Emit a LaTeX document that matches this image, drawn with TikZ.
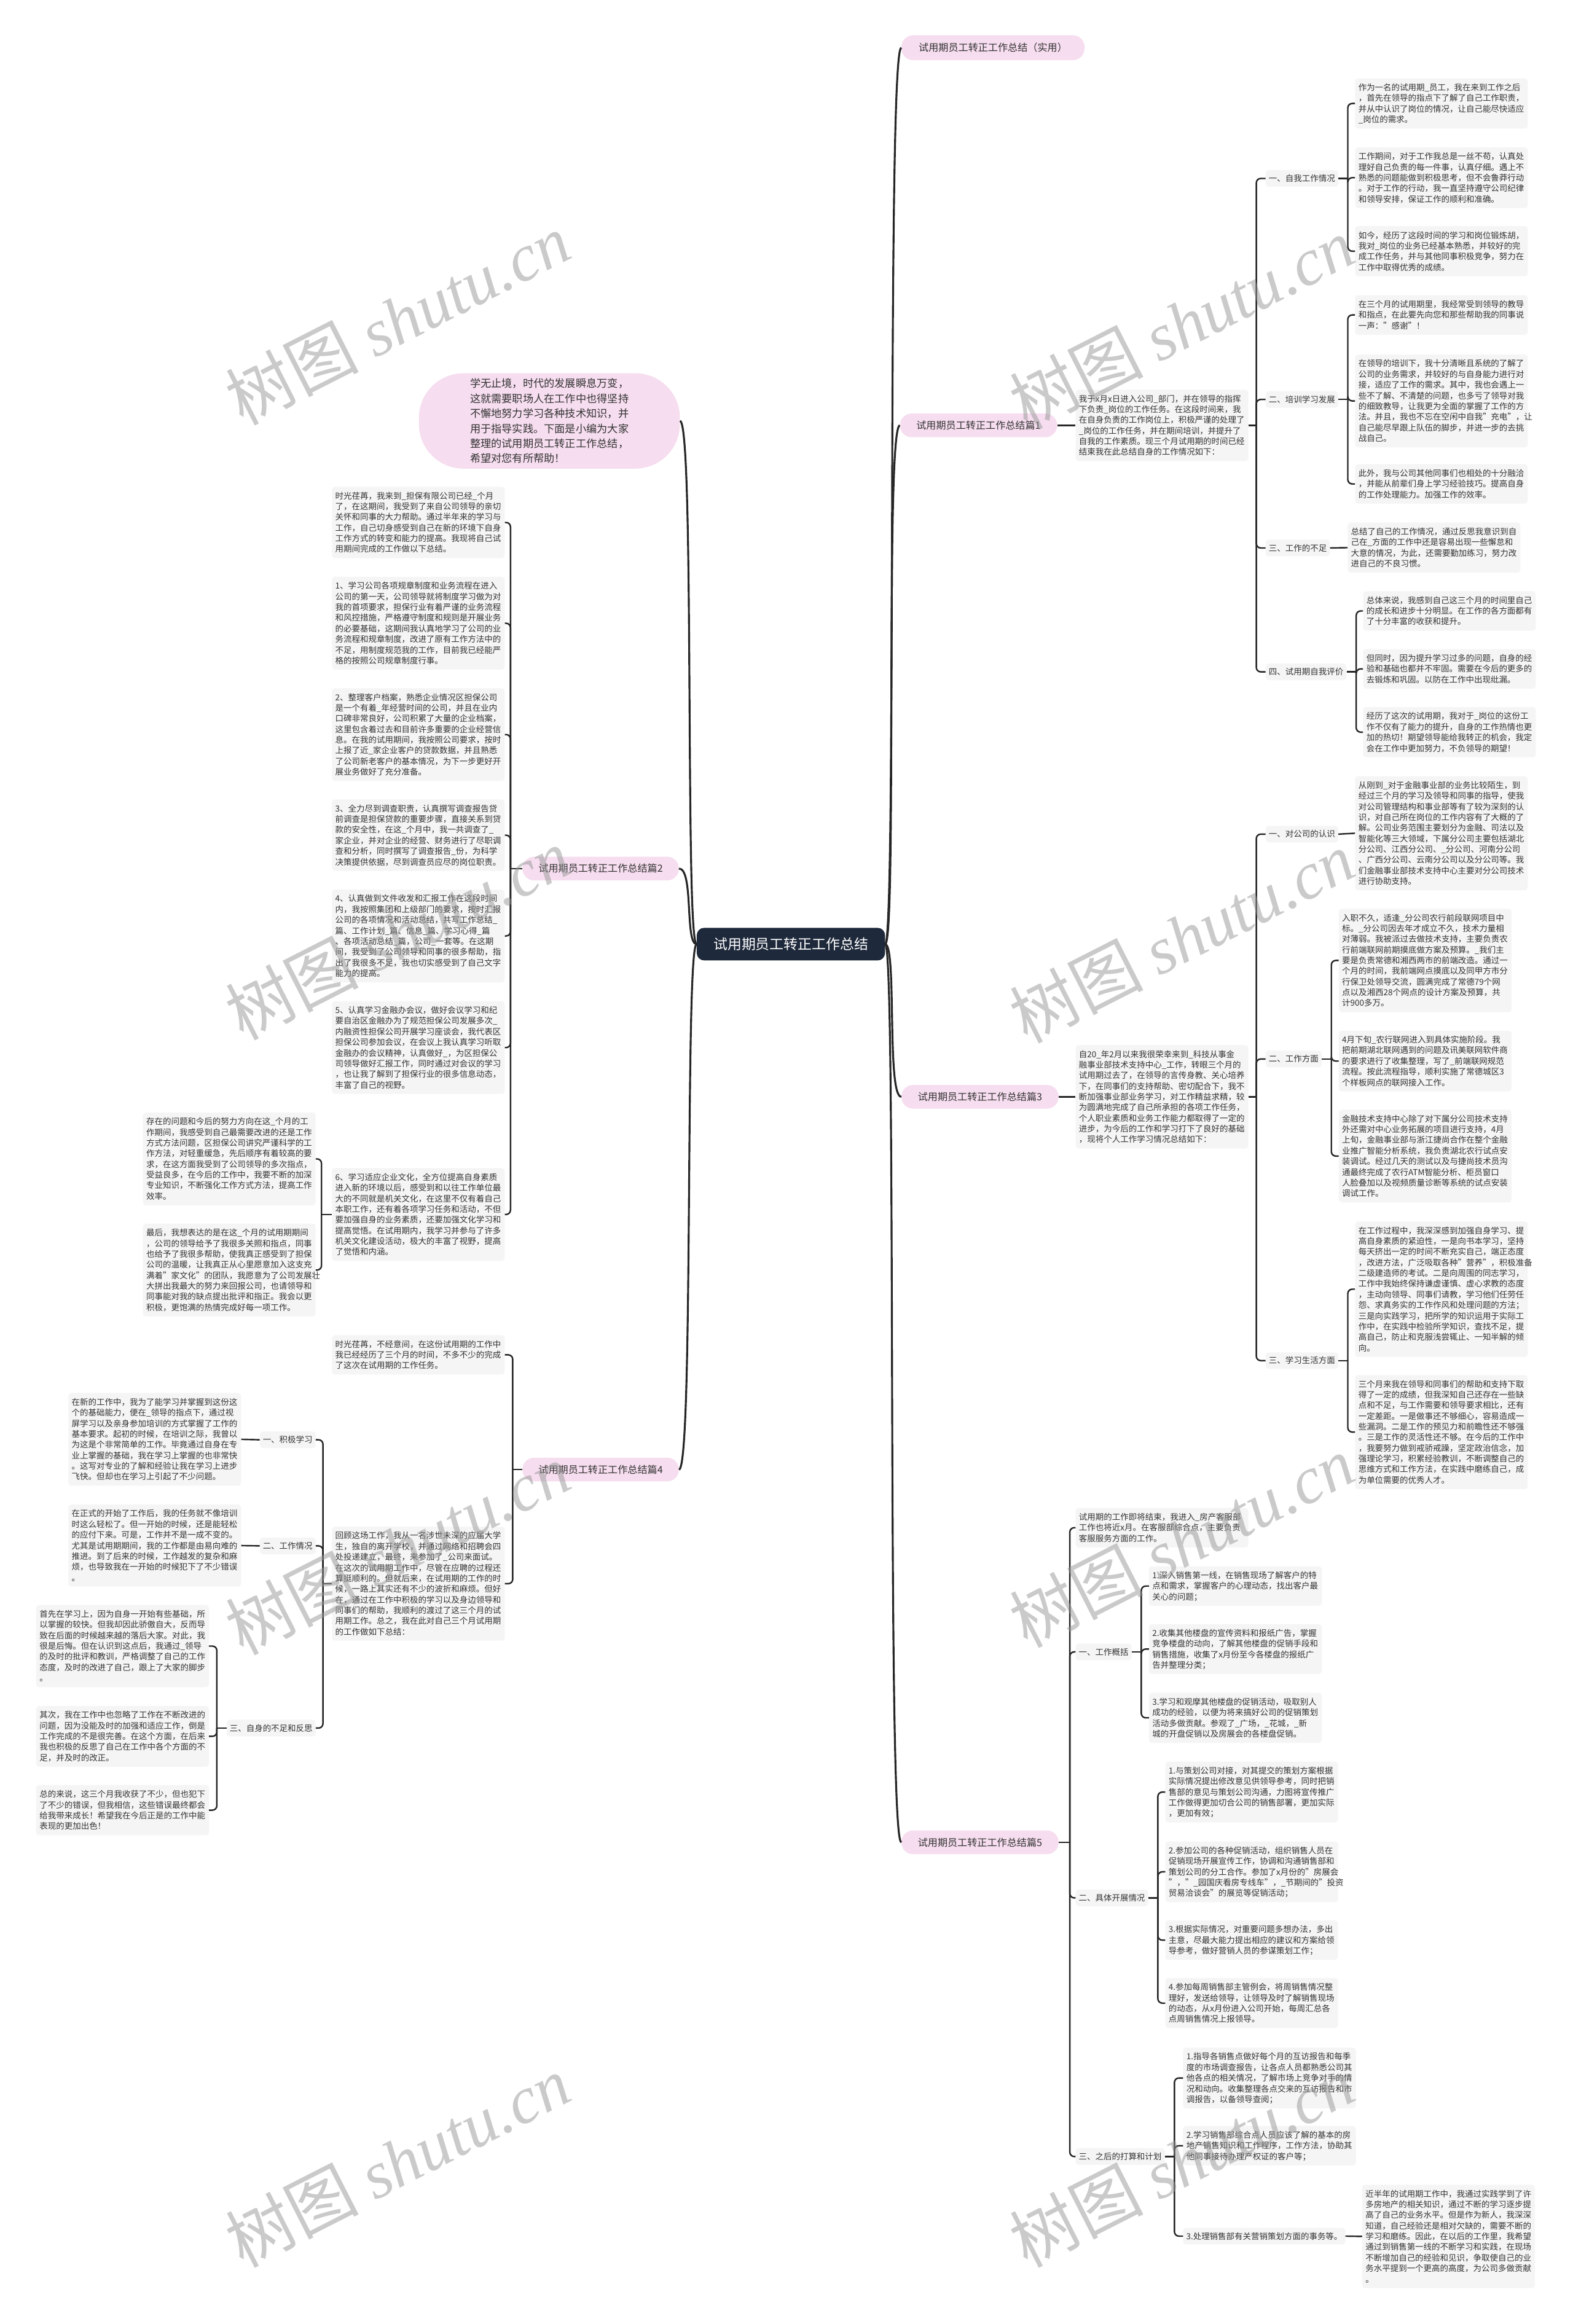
\documentclass[tikz,border=0pt]{standalone}
\usepackage{fontspec}
\setmainfont{Noto Sans CJK SC}
\newfontfamily\wmlat{Liberation Serif}
\usetikzlibrary{calc}
\definecolor{boxc}{RGB}{245,245,245}
\definecolor{txtc}{RGB}{51,51,51}
\definecolor{linec}{RGB}{38,38,38}
\definecolor{pinkc}{RGB}{246,221,239}
\definecolor{centc}{RGB}{30,41,59}
\definecolor{wmc}{RGB}{150,150,150}
\newcommand\bfnt{\fontsize{15.9pt}{20.47pt}\selectfont}
\newcommand\mystrut{\rule[-4.2pt]{0pt}{20.47pt}}
\newcommand\pfnt{\fontsize{19pt}{23pt}\selectfont}
\newcommand\cfnt{\fontsize{27pt}{32pt}\selectfont}
\newcommand\qfnt{\fontsize{20.3pt}{28.8pt}\selectfont}
\newcommand\wfnt{\fontsize{128pt}{140pt}\selectfont}
\begin{document}
\begin{tikzpicture}[x=1mm,y=-1mm,
 tbox/.style={fill=boxc, rounded corners=2mm, text width=112mm, inner xsep=2.25mm, inner ysep=2.5mm, align=left, text=txtc, font=\bfnt, execute at begin node=\mystrut, execute at end node=\mystrut},
 hbox/.style={fill=boxc, rounded corners=2mm, inner xsep=2.1mm, inner ysep=2mm, text=txtc, font=\bfnt, execute at begin node=\mystrut},
 pill/.style={fill=pinkc, rounded corners=7.9mm, minimum height=16mm, minimum width=106mm, inner xsep=3mm, text=txtc, font=\pfnt},
 centre/.style={fill=centc, text=white, rounded corners=5mm, minimum width=127mm, minimum height=22mm, font=\cfnt},
 bubble/.style={fill=pinkc, rounded corners=30mm, minimum width=176mm, minimum height=64.3mm, align=left, text=txtc, font=\qfnt},
 conn/.style={draw=linec, line width=1.0mm},
 hook/.style={draw=linec, line width=1.0mm, rounded corners=3mm},
 mainc/.style={draw=linec, line width=1.3mm},
 wmark/.style={rotate=27, text=wmc, text opacity=0.5, font=\wfnt, inner sep=0pt}
]
\fill[white] (0,0) rectangle (1061,1568);
\useasboundingbox (0,0) rectangle (1061,1568);

% centre and main branches
\node[centre] (C) at (533.5,637) {试用期员工转正工作总结};
\node[pill, anchor=west, minimum width=123.5mm, minimum height=16.8mm] (B0) at (608,32.2) {试用期员工转正工作总结（实用）};
\node[pill, anchor=west] (B1) at (607,287) {试用期员工转正工作总结篇1};
\node[pill, anchor=west] (B3) at (608,740) {试用期员工转正工作总结篇3};
\node[pill, anchor=west] (B5) at (608,1243) {试用期员工转正工作总结篇5};
\node[pill, anchor=east, minimum width=105.5mm] (B2) at (458,586) {试用期员工转正工作总结篇2};
\node[pill, anchor=east, minimum width=105.5mm] (B4) at (458,991.5) {试用期员工转正工作总结篇4};
\node[bubble] (Q) at (370.6,284) {学无止境，时代的发展瞬息万变，\\这就需要职场人在工作中也得坚持\\不懈地努力学习各种技术知识，并\\用于指导实践。下面是小编为大家\\整理的试用期员工转正工作总结，\\希望对您有所帮助！};

\draw[mainc] (C.east) .. controls +(8,0) and +(-10,0) .. (B0.west);
\draw[mainc] (C.east) .. controls +(8,0) and +(-10,0) .. (B1.west);
\draw[mainc] (C.east) .. controls +(8,0) and +(-10,0) .. (B3.west);
\draw[mainc] (C.east) .. controls +(8,0) and +(-10,0) .. (B5.west);
\draw[mainc] (C.west) .. controls +(-8,0) and +(10,0) .. (Q.east);
\draw[mainc] (C.west) .. controls +(-8,0) and +(10,0) .. (B2.east);
\draw[mainc] (C.west) .. controls +(-8,0) and +(10,0) .. (B4.east);

% ---------------- branch 1 ----------------
\node[tbox, anchor=west] (t1) at (725.5,287) {我于x月x日进入公司\_部门，并在领导的指挥\\下负责\_岗位的工作任务。在这段时间来，我\\在自身负责的工作岗位上，积极严谨的处理了\\\_岗位的工作任务，并在期间培训，并提升了\\自我的工作素质。现三个月试用期的时间已经\\结束我在此总结自身的工作情况如下：};
\node[hbox, anchor=west] (s11) at (853.7,120.4) {一、自我工作情况};
\node[hbox, anchor=west] (s12) at (853.7,269.5) {二、培训学习发展};
\node[hbox, anchor=west] (s13) at (853.7,369.7) {三、工作的不足};
\node[hbox, anchor=west] (s14) at (853.7,453.3) {四、试用期自我评价};
\node[tbox, anchor=west] (a1) at (914,69.8) {作为一名的试用期\_员工，我在来到工作之后\\，首先在领导的指点下了解了自己工作职责，\\并从中认识了岗位的情况，让自己能尽快适应\\\_岗位的需求。};
\node[tbox, anchor=west] (a2) at (914,119.9) {工作期间，对于工作我总是一丝不苟，认真处\\理好自己负责的每一件事，认真仔细。遇上不\\熟悉的问题能做到积极思考，但不会鲁莽行动\\。对于工作的行动，我一直坚持遵守公司纪律\\和领导安排，保证工作的顺利和准确。};
\node[tbox, anchor=west] (a3) at (914,169.5) {如今，经历了这段时间的学习和岗位锻炼胡，\\我对\_岗位的业务已经基本熟悉，并较好的完\\成工作任务，并与其他同事积极竞争，努力在\\工作中取得优秀的成绩。};
\node[tbox, anchor=west] (b1) at (914,212.5) {在三个月的试用期里，我经常受到领导的教导\\和指点，在此要先向您和那些帮助我的同事说\\一声："感谢"！};
\node[tbox, anchor=west] (b2) at (914,270.5) {在领导的培训下，我十分清晰且系统的了解了\\公司的业务需求，并较好的与自身能力进行对\\接，适应了工作的需求。其中，我也会遇上一\\些不了解、不清楚的问题，也多亏了领导对我\\的细致教导，让我更为全面的掌握了工作的方\\法。并且，我也不忘在空闲中自我"充电"，让\\自己能尽早跟上队伍的脚步，并进一步的去挑\\战自己。};
\node[tbox, anchor=west] (b3) at (914,326.5) {此外，我与公司其他同事们也相处的十分融洽\\，并能从前辈们身上学习经验技巧。提高自身\\的工作处理能力。加强工作的效率。};
\node[tbox, anchor=west] (c1) at (909,369.5) {总结了自己的工作情况，通过反思我意识到自\\己在\_方面的工作中还是容易出现一些懈怠和\\大意的情况，为此，还需要勤加练习，努力改\\进自己的不良习惯。};
\node[tbox, anchor=west] (d1) at (919.4,412.2) {总体来说，我感到自己这三个月的时间里自己\\的成长和进步十分明显。在工作的各方面都有\\了十分丰富的收获和提升。};
\node[tbox, anchor=west] (d2) at (919.4,451.3) {但同时，因为提升学习过多的问题，自身的经\\验和基础也都并不牢固。需要在今后的更多的\\去锻炼和巩固。以防在工作中出现纰漏。};
\node[tbox, anchor=west] (d3) at (919.4,494) {经历了这次的试用期，我对于\_岗位的这份工\\作不仅有了能力的提升，自身的工作热情也更\\加的热切！期望领导能给我转正的机会，我定\\会在工作中更加努力，不负领导的期望！};

\draw[conn] (B1.east) -- (t1.west);
\draw[conn] (t1.east) -- ++(5.3,0) coordinate (t1x);
\foreach \c in {s11,s12,s13,s14} \draw[hook] (t1x) |- (\c.west);
\draw[conn] (s11.east) -- ++(6.4,0) coordinate (s11x);
\foreach \c in {a1,a2,a3} \draw[hook] (s11x) |- (\c.west);
\draw[conn] (s12.east) -- ++(6.4,0) coordinate (s12x);
\foreach \c in {b1,b2,b3} \draw[hook] (s12x) |- (\c.west);
\draw[conn] (s13.east) -- (c1.west);
\draw[conn] (s14.east) -- ++(6.5,0) coordinate (s14x);
\foreach \c in {d1,d2,d3} \draw[hook] (s14x) |- (\c.west);

% ---------------- branch 3 ----------------
\node[tbox, anchor=west] (t3) at (725.5,740) {自20\_年2月以来我很荣幸来到\_科技从事金\\融事业部技术支持中心\_工作，转眼三个月的\\试用期过去了，在领导的言传身教、关心培养\\下，在同事们的支持帮助、密切配合下，我不\\断加强事业部业务学习，对工作精益求精，较\\为圆满地完成了自己所承担的各项工作任务，\\个人职业素质和业务工作能力都取得了一定的\\进步，为今后的工作和学习打下了良好的基础\\，现将个人工作学习情况总结如下：};
\node[hbox, anchor=west] (s31) at (853.7,562.8) {一、对公司的认识};
\node[hbox, anchor=west] (s32) at (853.7,714.5) {二、工作方面};
\node[hbox, anchor=west] (s33) at (853.7,918) {三、学习生活方面};
\node[tbox, anchor=west] (e1) at (914,562.2) {从刚到\_对于金融事业部的业务比较陌生，到\\经过三个月的学习及领导和同事的指导，使我\\对公司管理结构和事业部等有了较为深刻的认\\识，对自己所在岗位的工作内容有了大概的了\\解。公司业务范围主要划分为金融、司法以及\\智能化等三大领域，下属分公司主要包括湖北\\分公司、江西分公司、\_分公司、河南分公司\\、广西分公司、云南分公司以及分公司等。我\\们金融事业部技术支持中心主要对分公司技术\\进行协助支持。};
\node[tbox, anchor=west] (f1) at (903,648) {入职不久，适逢\_分公司农行前段联网项目中\\标。\_分公司因去年才成立不久，技术力量相\\对薄弱。我被派过去做技术支持，主要负责农\\行前端联网前期摸底做方案及预算。\_我们主\\要是负责常德和湘西两市的前端改造。通过一\\个月的时间，我前端网点摸底以及同甲方市分\\行保卫处领导交流，圆满完成了常德79个网\\点以及湘西28个网点的设计方案及预算，共\\计900多万。};
\node[tbox, anchor=west] (f2) at (903,715.9) {4月下旬\_农行联网进入到具体实施阶段。我\\把前期湖北联网遇到的问题及讯美联网软件商\\的要求进行了收集整理，写了\_前端联网规范\\流程。按此流程指导，顺利实施了常德城区3\\个样板网点的联网接入工作。};
\node[tbox, anchor=west] (f3) at (903,780) {金融技术支持中心除了对下属分公司技术支持\\外还需对中心业务拓展的项目进行支持，4月\\上旬，金融事业部与浙江捷尚合作在整个金融\\业推广智能分析系统，我负责湖北农行试点安\\装调试。经过几天的测试以及与捷尚技术员沟\\通最终完成了农行ATM智能分析、柜员窗口\\人脸叠加以及视频质量诊断等系统的试点安装\\调试工作。};
\node[tbox, anchor=west] (g1) at (914,869.8) {在工作过程中，我深深感到加强自身学习、提\\高自身素质的紧迫性，一是向书本学习，坚持\\每天挤出一定的时间不断充实自己，端正态度\\，改进方法，广泛吸取各种"营养"，积极准备\\二级建造师的考试。二是向周围的同志学习，\\工作中我始终保持谦虚谨慎、虚心求教的态度\\，主动向领导、同事们请教，学习他们任劳任\\怨、求真务实的工作作风和处理问题的方法；\\三是向实践学习，把所学的知识运用于实际工\\作中，在实践中检验所学知识，查找不足，提\\高自己，防止和克服浅尝辄止、一知半解的倾\\向。};
\node[tbox, anchor=west] (g2) at (914,966.2) {三个月来我在领导和同事们的帮助和支持下取\\得了一定的成绩，但我深知自己还存在一些缺\\点和不足，与工作需要和领导要求相比，还有\\一定差距。一是做事还不够细心，容易造成一\\些漏洞。二是工作的预见力和前瞻性还不够强\\。三是工作的灵活性还不够。在今后的工作中\\，我要努力做到戒骄戒躁，坚定政治信念，加\\强理论学习，积累经验教训，不断调整自己的\\思维方式和工作方法，在实践中磨练自己，成\\为单位需要的优秀人才。};

\draw[conn] (B3.east) -- (t3.west);
\draw[conn] (t3.east) -- ++(5.3,0) coordinate (t3x);
\foreach \c in {s31,s32,s33} \draw[hook] (t3x) |- (\c.west);
\draw[conn] (s31.east) -- (e1.west);
\draw[conn] (s32.east) -- ++(6.5,0) coordinate (s32x);
\foreach \c in {f1,f2,f3} \draw[hook] (s32x) |- (\c.west);
\draw[conn] (s33.east) -- ++(6.4,0) coordinate (s33x);
\foreach \c in {g1,g2} \draw[hook] (s33x) |- (\c.west);

% ---------------- branch 5 ----------------
\node[tbox, anchor=west] (t5) at (725.5,1030.7) {试用期的工作即将结束，我进入\_房产客服部\\工作也将近x月。在客服部综合点，主要负责\\客服服务方面的工作。};
\node[hbox, anchor=west] (s51) at (725.5,1114.5) {一、工作概括};
\node[hbox, anchor=west] (s52) at (725.5,1280.5) {二、具体开展情况};
\node[hbox, anchor=west] (s53) at (725.5,1455) {三、之后的打算和计划};
\node[tbox, anchor=west] (h1) at (775,1070.1) {1.深入销售第一线，在销售现场了解客户的特\\点和需求，掌握客户的心理动态，找出客户最\\关心的问题；};
\node[tbox, anchor=west] (h2) at (775,1112.6) {2.收集其他楼盘的宣传资料和报纸广告，掌握\\竞争楼盘的动向，了解其他楼盘的促销手段和\\销售措施，收集了x月份至今各楼盘的报纸广\\告并整理分类；};
\node[tbox, anchor=west] (h3) at (775,1159) {3.学习和观摩其他楼盘的促销活动，吸取别人\\成功的经验，以便为将来搞好公司的促销策划\\活动多做贡献。参观了\_广场，\_花城，\_新\\城的开盘促销以及房展会的各楼盘促销。};
\node[tbox, anchor=west] (i1) at (786,1209.1) {1.与策划公司对接，对其提交的策划方案根据\\实际情况提出修改意见供领导参考，同时把销\\售部的意见与策划公司沟通，力图将宣传推广\\工作做得更加切合公司的销售部署，更加实际\\，更加有效；};
\node[tbox, anchor=west] (i2) at (786,1262.9) {2.参加公司的各种促销活动，组织销售人员在\\促销现场开展宣传工作，协调和沟通销售部和\\策划公司的分工合作。参加了x月份的"房展会\\"，"\_园国庆看房专线车"，\_节期间的"投资\\贸易洽谈会"的展览等促销活动；};
\node[tbox, anchor=west] (i3) at (786,1309) {3.根据实际情况，对重要问题多想办法，多出\\主意，尽最大能力提出相应的建议和方案给领\\导参考，做好营销人员的参谋策划工作；};
\node[tbox, anchor=west] (i4) at (786,1351.5) {4.参加每周销售部主管例会，将周销售情况整\\理好，发送给领导，让领导及时了解销售现场\\的动态，从x月份进入公司开始，每周汇总各\\点周销售情况上报领导。};
\node[tbox, anchor=west] (j1) at (798,1402) {1.指导各销售点做好每个月的互访报告和每季\\度的市场调查报告，让各点人员都熟悉公司其\\他各点的相关情况，了解市场上竞争对手的情\\况和动向。收集整理各点交来的互访报告和市\\调报告，以备领导查阅；};
\node[tbox, anchor=west] (j2) at (798,1447.7) {2.学习销售部综合点人员应该了解的基本的房\\地产销售知识和工作程序，工作方法，协助其\\他同事接待办理产权证的客户等；};
\node[hbox, anchor=west] (j3) at (798,1508.7) {3.处理销售部有关营销策划方面的事务等。};
\node[tbox, anchor=west] (k1) at (918.8,1508.9) {近半年的试用期工作中，我通过实践学到了许\\多房地产的相关知识，通过不断的学习逐步提\\高了自己的业务水平。但是作为新人，我深深\\知道，自己经验还是相对欠缺的，需要不断的\\学习和磨练。因此，在以后的工作里，我希望\\通过到销售第一线的不断学习和实践，在现场\\不断增加自己的经验和见识，争取使自己的业\\务水平提到一个更高的高度，为公司多做贡献\\。};

\draw[conn] (B5.east) -- ++(7.5,0) coordinate (b5x);
\foreach \c in {t5,s51,s52,s53} \draw[hook] (b5x) |- (\c.west);
\draw[conn] (s51.east) -- ++(6.5,0) coordinate (s51x);
\foreach \c in {h1,h2,h3} \draw[hook] (s51x) |- (\c.west);
\draw[conn] (s52.east) -- ++(6.5,0) coordinate (s52x);
\foreach \c in {i1,i2,i3,i4} \draw[hook] (s52x) |- (\c.west);
\draw[conn] (s53.east) -- ++(6.5,0) coordinate (s53x);
\foreach \c in {j1,j2,j3} \draw[hook] (s53x) |- (\c.west);
\draw[conn] (j3.east) -- (k1.west);

% ---------------- branch 2 ----------------
\node[tbox, anchor=east] (p0) at (340.5,352.5) {时光荏苒，我来到\_担保有限公司已经\_个月\\了，在这期间，我受到了来自公司领导的亲切\\关怀和同事的大力帮助。通过半年来的学习与\\工作，自己切身感受到自己在新的环境下自身\\工作方式的转变和能力的提高。我现将自己试\\用期间完成的工作做以下总结。};
\node[tbox, anchor=east] (p1) at (340.5,420.5) {1、学习公司各项规章制度和业务流程在进入\\公司的第一天，公司领导就将制度学习做为对\\我的首项要求，担保行业有着严谨的业务流程\\和风控措施，严格遵守制度和规则是开展业务\\的必要基础，这期间我认真地学习了公司的业\\务流程和规章制度，改进了原有工作方法中的\\不足，用制度规范我的工作，目前我已经能严\\格的按照公司规章制度行事。};
\node[tbox, anchor=east] (p2) at (340.5,495.6) {2、整理客户档案，熟悉企业情况区担保公司\\是一个有着\_年经营时间的公司，并且在业内\\口碑非常良好，公司积累了大量的企业档案，\\这里包含着过去和目前许多重要的企业经营信\\息。在我的试用期间，我按照公司要求，按时\\上报了近\_家企业客户的贷款数据，并且熟悉\\了公司新老客户的基本情况，为下一步更好开\\展业务做好了充分准备。};
\node[tbox, anchor=east] (p3) at (340.5,563.5) {3、全力尽到调查职责，认真撰写调查报告贷\\前调查是担保贷款的重要步骤，直接关系到贷\\款的安全性，在这\_个月中，我一共调查了\_\\家企业，并对企业的经营、财务进行了尽职调\\查和分析，同时撰写了调查报告\_份，为科学\\决策提供依据，尽到调查员应尽的岗位职责。};
\node[tbox, anchor=east] (p4) at (340.5,631.5) {4、认真做到文件收发和汇报工作在这段时间\\内，我按照集团和上级部门的要求，按时汇报\\公司的各项情况和活动总结，共写工作总结\_\\篇、工作计划\_篇、信息\_篇、学习心得\_篇\\、各项活动总结\_篇，公司\_一套等。在这期\\间，我受到了公司领导和同事的很多帮助，指\\出了我很多不足，我也切实感受到了自己文字\\能力的提高。};
\node[tbox, anchor=east] (p5) at (340.5,706.8) {5、认真学习金融办会议，做好会议学习和纪\\要自治区金融办为了规范担保公司发展多次\_\\内融资性担保公司开展学习座谈会，我代表区\\担保公司参加会议，在会议上我认真学习听取\\金融办的会议精神，认真做好\_，为区担保公\\司领导做好汇报工作，同时通过对会议的学习\\，也让我了解到了担保行业的很多信息动态，\\丰富了自己的视野。};
\node[tbox, anchor=east] (p6) at (340.5,819.4) {6、学习适应企业文化，全方位提高自身素质\\进入新的环境以后，感受到和以往工作单位最\\大的不同就是机关文化，在这里不仅有着自己\\本职工作，还有着各项学习任务和活动，不但\\要加强自身的业务素质，还要加强文化学习和\\提高觉悟。在试用期内，我学习并参与了许多\\机关文化建设活动，极大的丰富了视野，提高\\了觉悟和内涵。};
\node[tbox, anchor=east] (q1) at (213,781.9) {存在的问题和今后的努力方向在这\_个月的工\\作期间，我感受到自己最需要改进的还是工作\\方式方法问题，区担保公司讲究严谨科学的工\\作方法，对轻重缓急，先后顺序有着较高的要\\求，在这方面我受到了公司领导的多次指点，\\受益良多，在今后的工作中，我要不断的加深\\专业知识，不断强化工作方式方法，提高工作\\效率。};
\node[tbox, anchor=east] (q2) at (213,856.9) {最后，我想表达的是在这\_个月的试用期期间\\，公司的领导给予了我很多关照和指点，同事\\也给予了我很多帮助，使我真正感受到了担保\\公司的温暖，让我真正从心里愿意加入这支充\\满着"家文化"的团队，我愿意为了公司发展壮\\大拼出我最大的努力来回报公司，也请领导和\\同事能对我的缺点提出批评和指正。我会以更\\积极，更饱满的热情完成好每一项工作。};

\draw[conn] (B2.west) -- ++(-8,0) coordinate (b2x);
\foreach \c in {p0,p1,p2,p3,p4,p5,p6} \draw[hook] (b2x) |- (\c.east);
\draw[conn] (p6.west) -- ++(-7,0) coordinate (p6x);
\foreach \c in {q1,q2} \draw[hook] (p6x) |- (\c.east);

% ---------------- branch 4 ----------------
\node[tbox, anchor=east] (t4a) at (340.5,914.1) {时光荏苒，不经意间，在这份试用期的工作中\\我已经经历了三个月的时间，不多不少的完成\\了这次在试用期的工作任务。};
\node[tbox, anchor=east] (t4b) at (340.5,1068.5) {回顾这场工作，我从一名涉世未深的应届大学\\生，独自的离开学校，并通过网络和招聘会四\\处投递建立，最终，来参加了\_公司来面试。\\在这次的试用期工作中，尽管在应聘的过程还\\算挺顺利的。但就后来，在试用期的工作的时\\候，一路上其实还有不少的波折和麻烦。但好\\在，通过在工作中积极的学习以及身边领导和\\同事们的帮助，我顺利的渡过了这三个月的试\\用期工作。总之，我在此对自己三个月试用期\\的工作做如下总结：};
\node[hbox, anchor=east] (s41) at (213,971.4) {一、积极学习};
\node[hbox, anchor=east] (s42) at (213,1043) {二、工作情况};
\node[hbox, anchor=east] (s43) at (213,1165.9) {三、自身的不足和反思};
\node[tbox, anchor=east] (r1) at (162.7,971.1) {在新的工作中，我为了能学习并掌握到这份这\\个的基础能力，便在\_领导的指点下，通过视\\屏学习以及亲身参加培训的方式掌握了工作的\\基本要求。起初的时候，在培训之际，我曾以\\为这是个非常简单的工作。毕竟通过自身在专\\业上掌握的基础，我在学习上掌握的也非常快\\。这写对专业的了解和经验让我在学习上进步\\飞快。但却也在学习上引起了不少问题。};
\node[tbox, anchor=east] (r2) at (162.7,1042.8) {在正式的开始了工作后，我的任务就不像培训\\时这么轻松了。但一开始的时候，还是能轻松\\的应付下来。可是，工作并不是一成不变的。\\尤其是试用期期间，我的工作都是由易向难的\\推进。到了后来的时候，工作越发的复杂和麻\\烦，也导致我在一开始的时候犯下了不少错误\\。};
\node[tbox, anchor=east] (u1) at (141,1110.6) {首先在学习上，因为自身一开始有些基础，所\\以掌握的较快。但我却因此骄傲自大，反而导\\致在后面的时候越来越的落后大家。对此，我\\很是后悔。但在认识到这点后，我通过\_领导\\的及时的批评和教训，严格调整了自己的工作\\态度，及时的改进了自己，跟上了大家的脚步\\。};
\node[tbox, anchor=east] (u2) at (141,1171.5) {其次，我在工作中也忽略了工作在不断改进的\\问题，因为没能及时的加强和适应工作，倒是\\工作完成的不是很完善。在这个方面，在后来\\我也积极的反思了自己在工作中各个方面的不\\足，并及时的改正。};
\node[tbox, anchor=east] (u3) at (141,1221.3) {总的来说，这三个月我收获了不少，但也犯下\\了不少的错误，但我相信，这些错误最终都会\\给我带来成长！希望我在今后正是的工作中能\\表现的更加出色！};

\draw[conn] (B4.west) -- ++(-6.5,0) coordinate (b4x);
\foreach \c in {t4a,t4b} \draw[hook] (b4x) |- (\c.east);
\draw[conn] (t4b.west) -- ++(-6,0) coordinate (t4x);
\foreach \c in {s41,s42,s43} \draw[hook] (t4x) |- (\c.east);
\draw[conn] (s41.west) -- (r1.east);
\draw[conn] (s42.west) -- (r2.east);
\draw[conn] (s43.west) -- ++(-6.5,0) coordinate (s43x);
\foreach \c in {u1,u2,u3} \draw[hook] (s43x) |- (\c.east);

% ---------------- watermarks ----------------
\foreach \wx/\wy [count=\k] in {268/215, 797/218, 268/630, 797/632, 268/1045, 797/1040, 268/1458, 797/1458}
  \node[wmark] (wm\k) at (\wx,\wy) {树图 {\wmlat\itshape shutu.cn}};
\end{tikzpicture}
\end{document}
